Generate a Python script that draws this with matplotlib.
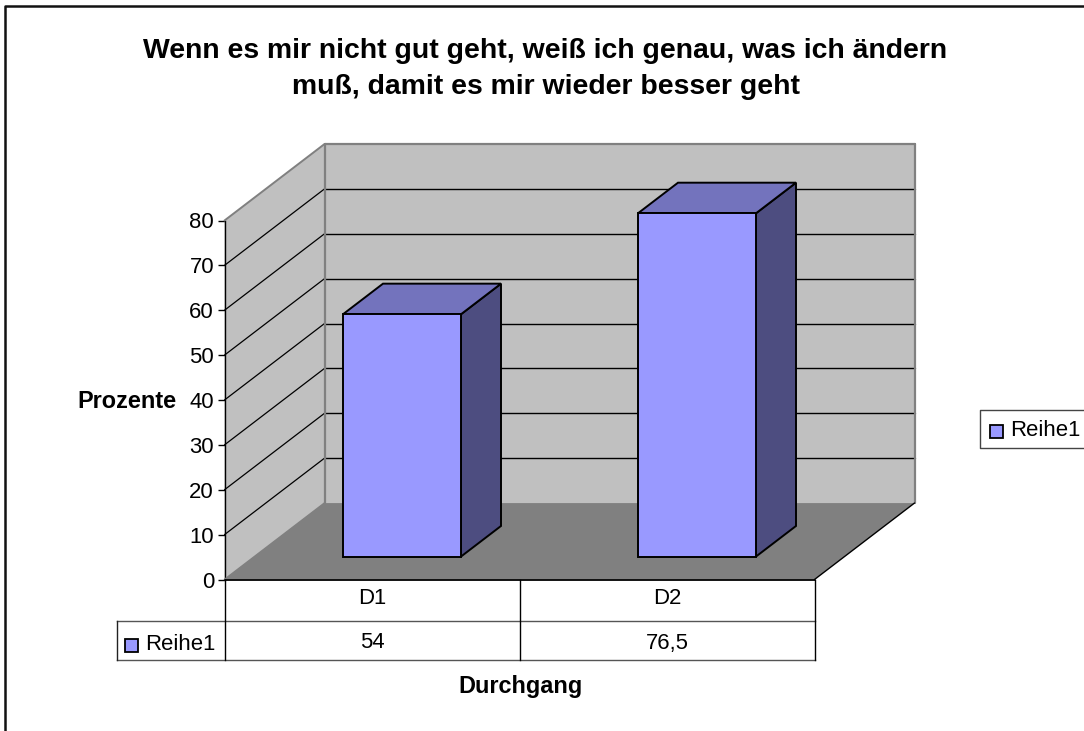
import matplotlib
matplotlib.use("Agg")
import matplotlib.pyplot as plt
from matplotlib.lines import Line2D
from matplotlib.patches import Rectangle

plt.rcParams["font.family"] = ["Liberation Sans", "DejaVu Sans"]

categories = ["D1", "D2"]
values = [54, 76.5]
series_name = "Reihe1"
value_labels = ["54", "76,5"]
y_ticks = [0, 10, 20, 30, 40, 50, 60, 70, 80]

W, H = 1084, 731
fig = plt.figure(figsize=(W / 100, H / 100), dpi=100, facecolor="white")


def fx(x):
    return x / W


def fy(y):
    return 1 - y / H


def fig_line(xs, ys, color="black", lw=1.0):
    fig.add_artist(Line2D([fx(x) for x in xs], [fy(y) for y in ys], color=color, lw=lw))


# outer frame, only top and left are inside the picture
fig_line([5, 5, W], [H, 6, 6], color="#111111", lw=1.8)

# the axes is the front plane of the 3d box
left, right, top, bottom = 224.5, 814.5, 220.5, 579.5
ax = fig.add_axes([fx(left), fy(bottom), (right - left) / W, (bottom - top) / H])
ax.set_xlim(0, 2)
ax.set_ylim(0, 80)
ax.patch.set_visible(False)
for s in ["top", "right", "bottom"]:
    ax.spines[s].set_visible(False)
ax.spines["left"].set_linewidth(1.0)
ax.set_xticks([])
ax.set_yticks(y_ticks)
ax.tick_params(axis="y", length=5, width=1.0, labelsize=15.9, pad=2.5)

# depth of the box in data units
depth_x = 100 / 295
depth_y = 76.5 / 4.49


def proj(c, v, d):
    return c + d * depth_x, v + d * depth_y


def face(points, **kw):
    xy = [proj(*p) for p in points]
    ax.fill([p[0] for p in xy], [p[1] for p in xy], clip_on=False, **kw)


def edge(a, b, color="black", lw=1.0, z=3):
    pa, pb = proj(*a), proj(*b)
    ax.plot([pa[0], pb[0]], [pa[1], pb[1]], color=color, lw=lw, zorder=z,
            clip_on=False, solid_capstyle="round")


wall = "#C0C0C0"
wall_edge = "#808080"

# walls
face([(0, 0, 1), (2, 0, 1), (2, 80, 1), (0, 80, 1)], color=wall, zorder=1, lw=0)
face([(0, 0, 0), (0, 0, 1), (0, 80, 1), (0, 80, 0)], color=wall, zorder=1, lw=0)

# gridlines
for t in y_ticks[1:-1]:
    edge((0, t, 0), (0, t, 1), lw=0.9, z=2)
    edge((0, t, 1), (2, t, 1), lw=1.0, z=2)
edge((0, 80, 0), (0, 80, 1), color=wall_edge, lw=1.4, z=3)
edge((0, 80, 1), (2, 80, 1), color=wall_edge, lw=1.6, z=3)
edge((0, 0, 1), (0, 80, 1), color=wall_edge, lw=1.6, z=3)
edge((2, 0, 1), (2, 80, 1), color=wall_edge, lw=1.6, z=3)
edge((0, 0, 0), (0, 0, 1), color=wall_edge, lw=1.2, z=3)

# floor
face([(0, 0, 0), (2, 0, 0), (2, 0, 1), (0, 0, 1)], color="#808080", zorder=3, lw=0)
edge((0, 0, 0), (2, 0, 0), lw=1.3, z=4)
edge((2, 0, 0), (2, 0, 1), lw=1.0, z=4)

# bars
for i, val in enumerate(values):
    c0, c1 = i + 0.3, i + 0.7
    d0, d1 = 0.3, 0.7
    line = dict(edgecolor="black", lw=1.4, zorder=5, joinstyle="miter")
    face([(c1, 0, d0), (c1, 0, d1), (c1, val, d1), (c1, val, d0)], facecolor="#4D4D80", **line)
    face([(c0, val, d0), (c1, val, d0), (c1, val, d1), (c0, val, d1)], facecolor="#7373BD", **line)
    face([(c0, 0, d0), (c1, 0, d0), (c1, val, d0), (c0, val, d0)], facecolor="#9999FF", **line)

# data table under the axes
tab_left, tab_mid, tab_bot = 117, 620.5, 660
fig_line([tab_left, right], [tab_mid, tab_mid], color="#555555")
fig_line([tab_left, right], [tab_bot, tab_bot], color="#555555")
fig_line([tab_left, tab_left], [tab_mid, tab_bot], color="#222222")
fig_line([left, left], [bottom, tab_bot], color="black")
fig_line([right, right], [bottom, tab_bot], color="black")
fig_line([(left + right) / 2] * 2, [bottom, tab_bot], color="black")

cell_w = (right - left) / len(categories)
for i, (cat, lab) in enumerate(zip(categories, value_labels)):
    x = left + cell_w * (i + 0.5)
    fig.text(fx(x), fy(599), cat, ha="center", va="center", fontsize=15.9)
    fig.text(fx(x), fy(643), lab, ha="center", va="center", fontsize=15.9)


def legend_key(x, y):
    fig.add_artist(Rectangle((fx(x), fy(y + 13)), 13 / W, 13 / H, facecolor="#9999FF",
                             edgecolor="black", lw=1.3, transform=fig.transFigure))


legend_key(124.5, 639)
fig.text(fx(145), fy(644), series_name, ha="left", va="center", fontsize=15.9)

# legend on the right
fig_line([W, 980, 980, W], [410, 410, 447.5, 447.5], color="#444444")
legend_key(989.5, 424.5)
fig.text(fx(1010), fy(431), series_name, ha="left", va="center", fontsize=15.9)

# title and axis labels
fig.text(fx(545.5), fy(50.5), "Wenn es mir nicht gut geht, weiß ich genau, was ich ändern",
         ha="center", va="center", fontsize=20.4, fontweight="bold")
fig.text(fx(545.5), fy(87.5), "muß, damit es mir wieder besser geht",
         ha="center", va="center", fontsize=20.4, fontweight="bold")
fig.text(fx(127), fy(401), "Prozente", ha="center", va="center", fontsize=16.9, fontweight="bold")
fig.text(fx(520), fy(687), "Durchgang", ha="center", va="center", fontsize=16.9, fontweight="bold")

fig.savefig("out.png", dpi=100)
